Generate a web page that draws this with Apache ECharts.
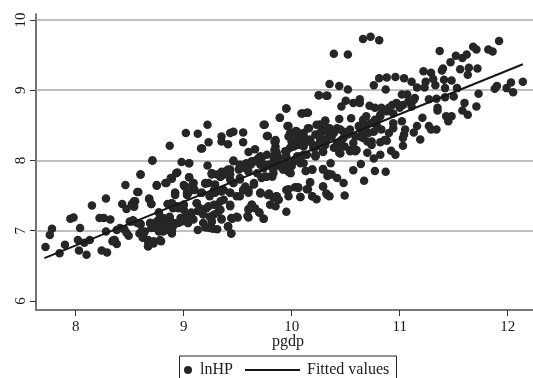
<!DOCTYPE html>
<html>
<head>
<meta charset="utf-8">
<style>html,body{margin:0;padding:0;background:#fff}#main{width:533px;height:378px}</style>
<script src="https://cdn.jsdelivr.net/npm/echarts@6/dist/echarts.min.js"></script>
</head>
<body>
<div id="main"></div>
<script>
// pgdp, lnHP pairs
var lnHP = [
[7.72,6.77],[7.76,6.94],[7.78,7.03],[7.85,6.68],[7.90,6.80],[7.95,7.17],[7.98,7.19],[8.04,7.04],[8.02,6.87],[8.03,6.72],
[8.10,6.66],[8.08,6.83],[8.13,6.87],[8.15,7.36],[8.24,6.72],[8.29,6.69],[8.22,7.18],[8.26,7.18],[8.32,7.16],[8.28,7.46],
[8.28,6.99],[8.36,6.87],[8.34,6.85],[8.38,6.81],[8.38,7.01],[8.45,7.02],[8.49,6.93],[8.43,7.38],[8.46,7.65],[8.47,7.31],
[8.52,7.38],[8.55,7.42],[8.54,7.34],[8.58,7.55],[8.60,7.80],[8.71,8.00],[8.68,7.45],[8.70,7.38],[8.75,7.64],[8.83,7.68],
[8.87,8.21],[8.89,7.74],[8.93,7.82],[8.53,7.15],[8.60,7.10],[8.59,6.96],[8.64,6.99],[8.62,6.90],[8.67,6.87],[8.67,6.78],
[8.72,6.82],[8.79,6.85],[8.77,7.26],[8.69,7.11],[8.73,7.06],[8.77,7.16],[8.77,6.99],[8.83,7.09],[8.87,7.20],[8.90,7.06],
[8.89,6.97],[8.86,7.01],[8.85,7.38],[8.90,7.32],[8.92,7.54],[8.98,7.98],[9.05,7.96],[9.02,8.39],[9.13,8.38],[9.17,8.17],
[9.23,8.26],[9.35,8.27],[9.35,8.34],[9.41,8.23],[9.43,8.39],[9.46,8.41],[9.55,8.40],[9.55,8.26],[9.60,8.12],[9.66,8.16],
[9.71,8.06],[9.22,7.93],[9.01,7.63],[9.05,7.76],[9.03,7.51],[9.08,7.65],[9.10,7.58],[9.00,7.30],[9.04,7.11],[8.98,7.13],
[9.06,7.23],[9.12,7.39],[9.16,7.54],[9.20,7.68],[9.26,7.82],[9.34,7.77],[9.38,7.84],[9.46,7.99],[9.43,7.87],[9.52,7.92],
[9.58,7.96],[9.66,7.99],[9.74,7.94],[9.13,7.01],[9.21,7.05],[9.26,7.13],[9.31,7.02],[9.27,7.03],[9.35,7.17],[9.41,7.06],
[9.44,6.96],[9.44,7.18],[9.50,7.19],[9.60,7.19],[9.60,7.30],[9.63,7.37],[9.70,7.26],[9.74,7.17],[9.71,7.54],
[9.22,8.51],[9.16,8.17],[9.84,8.27],[9.75,8.51],[9.78,8.35],[9.89,8.61],[9.95,8.74],[10.10,8.67],[10.15,8.68],[10.25,8.93],
[10.33,8.92],[9.96,8.49],[9.84,8.15],[9.86,8.10],[9.95,8.13],[9.99,8.39],[10.03,8.41],[10.05,8.32],[10.00,8.27],[10.08,8.30],
[10.11,8.39],[10.15,8.46],[10.23,8.51],[10.31,8.56],[10.26,8.39],[10.17,8.30],[10.11,8.22],[10.20,8.22],[10.28,8.30],[10.34,8.39],
[9.62,7.94],[9.65,7.99],[9.69,8.03],[9.74,7.89],[9.78,7.94],[9.83,7.99],[9.89,8.03],[9.95,7.96],[10.02,7.99],[10.08,8.06],
[10.14,8.08],[10.22,8.06],[10.31,8.22],[9.75,7.77],[9.82,7.77],[9.99,7.82],[10.13,7.85],[10.19,7.87],[10.29,7.88],[10.33,7.78],
[9.79,7.53],[9.83,7.47],[9.86,7.49],[9.80,7.37],[9.85,7.35],[9.88,7.44],[9.95,7.58],[9.97,7.49],[10.03,7.62],[10.06,7.62],
[10.08,7.48],[10.14,7.59],[10.17,7.69],[10.19,7.49],[10.23,7.45],[10.29,7.63],[10.33,7.51],[9.95,7.27],[9.74,7.17],[9.70,7.26],
[9.59,7.21],[9.63,7.37],[9.60,7.31],[9.66,7.32],[9.71,7.54],[9.57,7.61],[9.65,7.66],[9.60,7.54],[9.49,7.20],[9.45,7.17],
[9.35,7.16],[9.41,7.06],[9.44,6.96],
[10.66,9.73],[10.73,9.76],[10.81,9.71],[10.39,9.52],[10.52,9.51],[11.37,9.56],[11.52,9.49],[11.58,9.46],[11.62,9.51],[11.68,9.62],
[11.71,9.58],[11.82,9.58],[11.86,9.55],[11.92,9.70],[11.47,9.40],[11.40,9.31],[11.39,9.28],[11.22,9.27],[11.29,9.25],[11.31,9.16],
[11.56,9.30],[11.64,9.32],[11.72,9.31],[11.63,9.22],[11.41,9.15],[11.48,9.14],[11.24,9.12],[11.23,9.04],[11.33,9.07],[11.16,9.04],
[11.11,9.12],[11.04,9.17],[10.96,9.19],[10.88,9.18],[10.81,9.17],[10.76,9.07],[10.87,9.01],[10.35,9.09],[10.44,9.06],[10.52,9.01],
[10.25,8.93],[10.32,8.92],[11.42,9.03],[11.53,9.03],[11.73,8.95],[11.90,9.06],[11.88,9.02],[11.99,9.03],[12.03,9.11],[12.14,9.12],
[12.05,8.97],[11.02,8.94],[11.07,8.94],[11.14,8.89],[11.27,8.87],[11.34,8.88],[11.42,8.90],[11.50,8.91],[11.60,8.82],[11.71,8.77],
[11.58,8.71],[11.63,8.65],[11.35,8.75],[11.35,8.71],[11.43,8.63],[11.48,8.63],[11.45,8.56],[11.21,8.61],[11.16,8.49],[11.13,8.40],
[11.27,8.49],[11.29,8.44],[11.34,8.44],[11.19,8.30],[11.05,8.44],[11.04,8.37],[11.03,8.32],[11.03,8.21],[10.90,8.39],[10.88,8.28],
[10.82,8.26],[10.92,8.14],[10.96,8.08],[10.82,8.08],[10.76,8.03],[10.70,8.11],[10.64,7.95],[10.57,7.86],[10.77,7.85],[10.87,7.84],
[10.67,7.71],[10.49,7.50],[10.36,7.96],[10.19,7.87],[10.13,7.85],[10.29,7.87],[10.34,7.81],[10.37,7.80],[10.42,7.75],[10.48,7.68],
[10.17,7.69],[10.29,7.63],[10.15,7.59],[10.32,7.53],[10.35,7.49],[10.06,7.61],[9.97,7.59],[10.08,7.48],[10.19,7.49],
[9.95,8.74],[10.09,8.67],[10.14,8.68],[9.89,8.61],[9.74,8.51],[9.97,8.49],[9.77,8.35],[10.46,8.77],[10.50,8.85],[10.57,8.82],
[10.63,8.87],[10.63,8.82],[10.72,8.78],[10.77,8.75],[10.83,8.75],[10.90,8.75],[10.93,8.79],[10.97,8.82],[11.03,8.79],[11.08,8.84],
[11.13,8.86],[11.11,8.77],[11.00,8.75],[10.94,8.67],[10.88,8.70],[10.82,8.63],[10.77,8.58],[10.69,8.63],[10.66,8.58],[10.62,8.49],
[10.55,8.60],[10.44,8.59],[10.31,8.57],[10.26,8.51],[10.16,8.46],[10.04,8.42],[10.94,8.53],[10.94,8.46],[11.02,8.56],[10.76,8.41],
[10.79,8.49],[10.69,8.49],[10.63,8.46],[10.08,8.37],[10.12,8.32],[10.17,8.27],[10.22,8.37],[10.26,8.32],[10.31,8.44],[10.35,8.46],
[10.42,8.46],[10.48,8.41],[10.54,8.44],[10.37,8.34],[10.42,8.25],[10.46,8.29],[10.52,8.37],[10.59,8.34],[10.65,8.37],[10.71,8.39],
[10.39,8.18],[10.44,8.11],[10.49,8.20],[10.54,8.13],[10.60,8.15],[10.66,8.32],[10.74,8.22],[10.23,8.20],[10.29,8.12],[10.22,8.06],
[10.11,8.08],[10.02,8.20],[9.97,8.34],[10.00,8.27],[10.06,8.22],[9.85,8.29],[9.85,8.20],[9.86,8.11],[9.95,8.13],[9.95,8.06],
[10.03,8.01],[10.08,7.96],[10.00,7.92],[9.97,7.84],[9.89,7.92],[9.83,7.82],[9.77,7.77],[9.72,7.75],[9.80,7.92],[9.72,8.03],
[9.71,7.94],[9.94,7.89],[9.78,7.51],[9.86,7.49],[9.71,7.53],
[8.50,7.13],[8.60,7.09],[8.69,7.11],[8.77,7.26],[8.74,7.04],[8.81,7.13],[8.87,7.18],[8.83,7.02],[8.89,6.96],[8.63,6.97],
[8.95,7.11],[9.04,7.11],[9.07,7.24],[9.14,7.28],[8.89,7.39],[8.94,7.35],[9.00,7.37],[8.92,7.51],[9.01,7.63],[9.09,7.68],
[9.05,7.76],[9.09,7.61],[9.04,7.53],[9.20,7.67],[9.26,7.82],[9.34,7.77],[9.41,7.87],[9.38,7.80],[9.46,8.00],[9.05,7.96],
[9.52,7.94],[9.57,7.95],[9.12,7.39],[9.13,7.28],[9.21,7.32],[9.28,7.37],[9.34,7.42],[9.28,7.23],[9.34,7.30],[9.43,7.37],
[9.43,7.54],[9.49,7.49],[9.55,7.58],[9.29,7.54],[9.24,7.49],[9.17,7.54],[9.46,7.68],[9.52,7.73],[9.57,7.63],[9.37,7.58],
[9.29,7.66],[9.43,7.73],[9.20,7.05],[9.26,7.13],[9.24,7.04],[8.75,7.65],[8.84,7.68],[8.88,7.75],[8.94,7.83],[8.71,8.00],
[8.60,7.80],[8.57,7.55],[8.68,7.46],[8.70,7.38],[8.54,7.42],[8.54,7.35],
// dense band
[9.985,8.39],[10.05,8.41],[10.11,8.32],[10.17,8.27],[10.05,8.25],[10.11,8.20],[10.20,8.18],[10.26,8.25],[10.32,8.29],[10.39,8.39],
[10.34,8.46],[10.45,8.44],[10.48,8.32],[10.42,8.20],[10.45,8.10],[10.54,8.15],[10.59,8.13],[10.57,8.25],[10.63,8.34],[10.70,8.27],
[10.74,8.27],[10.65,8.46],[10.73,8.53],[10.79,8.58],[10.83,8.44],[10.86,8.29],[10.82,8.65],[10.26,8.51],[10.29,8.41],[9.985,8.18],
[9.85,8.27],[9.85,8.15],[9.94,8.13],[9.83,8.06],[9.89,8.03],[10.05,8.06],[10.11,7.96],[9.985,7.94],[9.92,7.87],[9.85,7.94],
[10.22,8.08],[10.29,8.13],
[9.31,7.80],[9.35,7.84],[9.43,7.80],[9.51,7.87],[9.57,7.89],[9.63,7.99],[9.69,8.03],[9.77,8.08],[9.85,8.03],[9.83,7.87],
[9.75,7.77],[9.68,7.82],[9.60,7.84],[9.52,7.75],[9.46,7.68],[9.65,7.68],[9.60,7.58],[9.52,7.49],[9.43,7.54],[9.35,7.56],
[9.28,7.58],[9.23,7.68],[9.26,7.80],[9.37,7.44],[9.31,7.37],[9.23,7.35],[9.15,7.32],[9.43,7.35],[9.55,7.58],[9.00,7.65],
[9.09,7.68],[9.03,7.54],[9.09,7.58],[8.92,7.54],[8.89,7.39],[8.95,7.32],[9.00,7.37],[9.07,7.26],[9.01,7.20],[9.18,7.23],
[9.09,7.16],[8.97,7.13],[8.84,7.16],[8.90,7.09],[9.32,7.27],[9.24,7.20],[9.18,7.11],[9.41,7.06],
[8.69,7.11],[8.75,7.13],[8.81,7.18],[8.86,7.18],[8.91,7.11],[8.83,7.06],[8.77,7.04],[8.70,7.04],[8.89,6.99],[8.81,6.99],
[8.97,7.18],[9.03,7.13],[8.61,6.99],[8.63,6.90],[8.57,7.11],[8.52,7.13],[8.41,7.04],[8.35,6.87],[8.47,6.97],[8.67,6.85],
[8.72,6.85],[8.78,6.87],[8.67,6.78]
];
var fitX = [7.71, 12.14];
var fitY = [6.61, 9.37];
var xTicks = [8, 9, 10, 11, 12];
var yTicks = [6, 7, 8, 9, 10];
var gridValues = [7, 8, 9, 10];

var serif = '"Liberation Serif", serif';
var chart = echarts.init(document.getElementById('main'), null, {renderer: 'canvas'});
var fitted = [];
for (var i = 0; i < fitX.length; i++) {
	fitted.push([fitX[i], fitY[i]]);
}
var gridLines = [];
for (var j = 0; j < gridValues.length; j++) {
	gridLines.push({yAxis: gridValues[j]});
}

chart.setOption({
	animation: false,
	backgroundColor: '#fff',
	grid: {left: 36, right: 0, top: 14, bottom: 68},
	xAxis: {
		type: 'value',
		min: 7.632,
		max: 12.234,
		name: 'pgdp',
		nameLocation: 'middle',
		nameGap: 24,
		nameMoveOverlap: false,
		nameTextStyle: {fontFamily: serif, fontSize: 16, color: '#1a1a1a', padding: [0, 0, 0, 7]},
		axisLine: {onZero: false, lineStyle: {color: '#777', width: 2}},
		axisTick: {length: 6, customValues: xTicks, lineStyle: {color: '#333', width: 1}},
		axisLabel: {customValues: xTicks, margin: 10, fontFamily: serif, fontSize: 15, color: '#1a1a1a'},
		splitLine: {show: false}
	},
	yAxis: {
		type: 'value',
		min: 5.872,
		max: 10.085,
		axisLine: {onZero: false, lineStyle: {color: '#444', width: 1.5}},
		axisTick: {length: 6, customValues: yTicks, lineStyle: {color: '#333', width: 1}},
		axisLabel: {customValues: yTicks, rotate: 90, margin: 7, fontFamily: serif, fontSize: 15, color: '#1a1a1a'},
		splitLine: {show: false}
	},
	legend: [
		{
			left: 184,
			top: 362,
			padding: 0,
			itemWidth: 8,
			itemHeight: 8,
			textStyle: {fontFamily: serif, fontSize: 16, color: '#1a1a1a', padding: [0, 0, 0, 3]},
			data: [{name: 'lnHP', icon: 'circle', itemStyle: {color: '#262626'}}]
		},
		{
			left: 245,
			top: 362,
			padding: 0,
			itemWidth: 55,
			itemHeight: 2,
			textStyle: {fontFamily: serif, fontSize: 16, color: '#1a1a1a', padding: [0, 0, 0, 2]},
			data: [{name: 'Fitted values', icon: 'rect', itemStyle: {color: '#161616'}}]
		}
	],
	graphic: [{
		type: 'rect',
		silent: true,
		shape: {x: 179.5, y: 356, width: 217, height: 30},
		style: {fill: 'none', stroke: '#222', lineWidth: 1}
	}],
	series: [
		{
			name: 'lnHP',
			type: 'scatter',
			data: lnHP,
			symbol: 'circle',
			symbolSize: 8.5,
			itemStyle: {color: '#262626', opacity: 1},
			markLine: {
				silent: true,
				symbol: 'none',
				z: 1,
				label: {show: false},
				lineStyle: {color: '#aaa', width: 1.5, type: 'solid'},
				data: gridLines
			},
			z: 3
		},
		{
			name: 'Fitted values',
			type: 'line',
			data: fitted,
			showSymbol: false,
			itemStyle: {color: '#161616'},
			lineStyle: {color: '#161616', width: 2},
			z: 4
		}
	]
});
</script>
</body>
</html>
